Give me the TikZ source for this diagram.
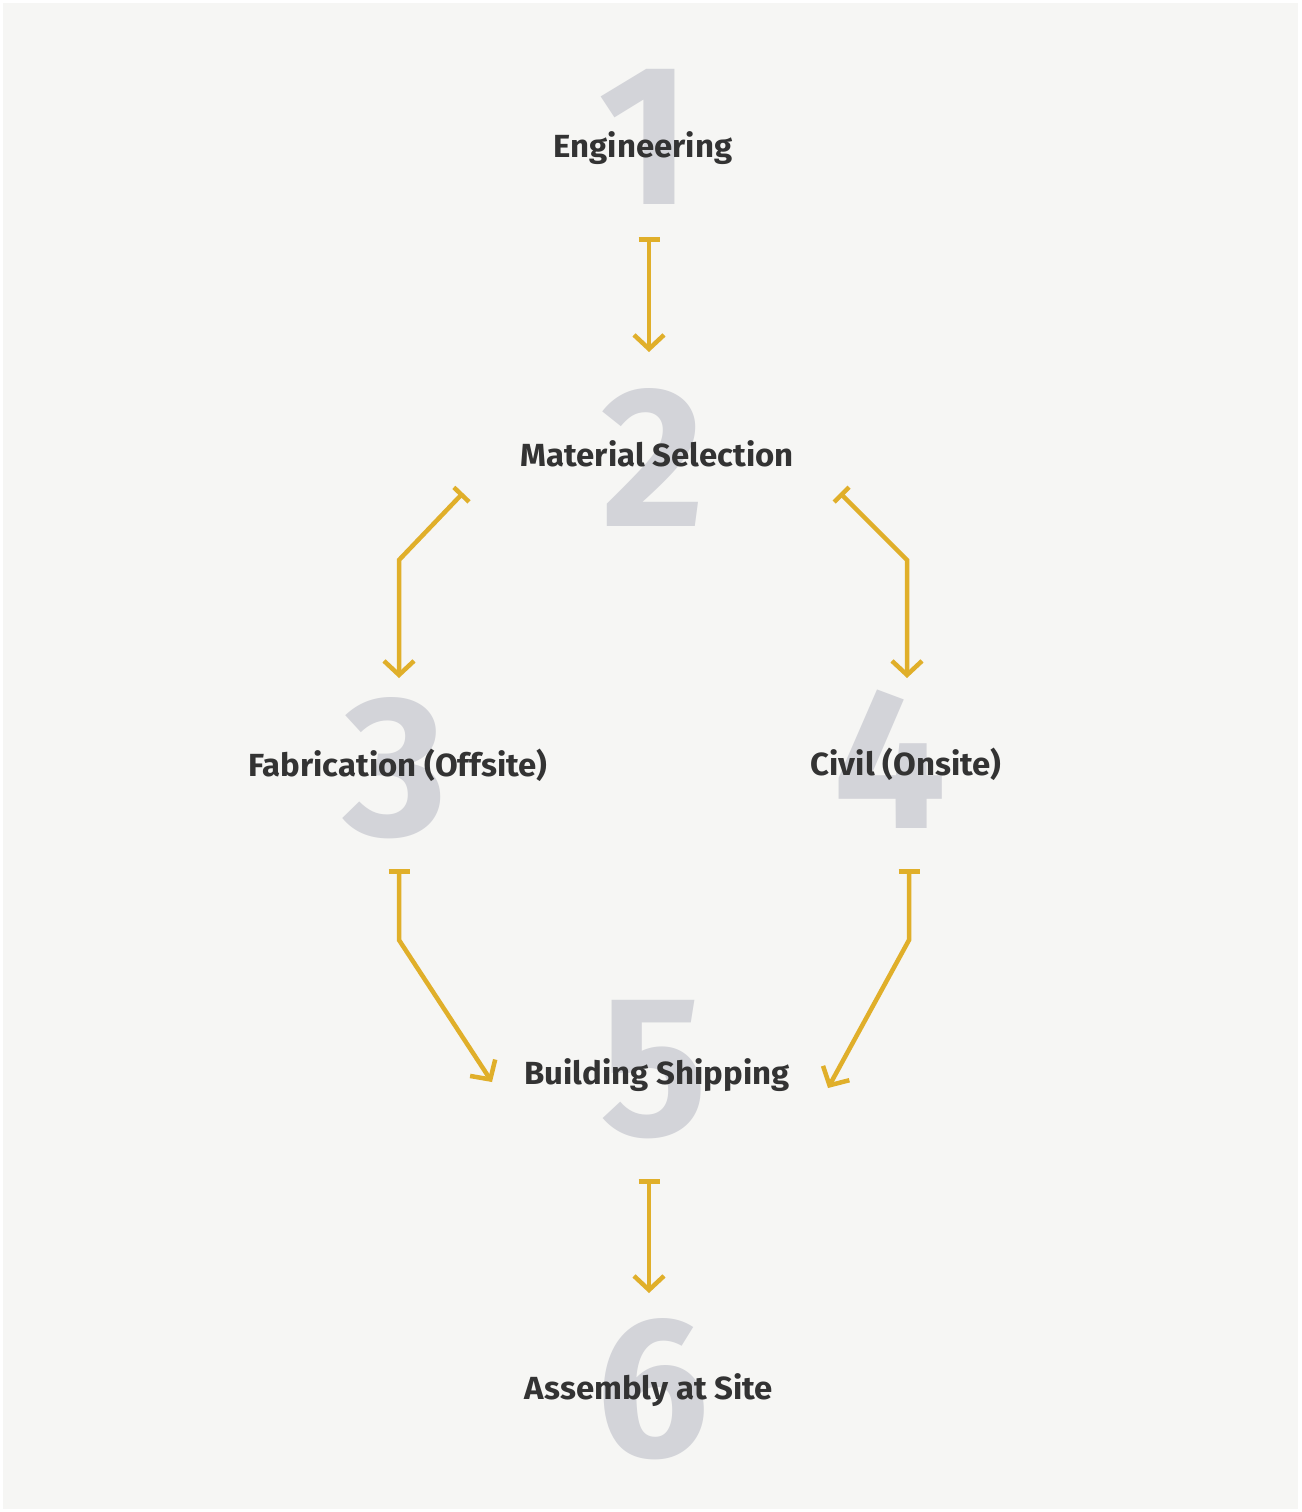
\documentclass[tikz,border=0pt]{standalone}
\usepackage{fontspec}
\setmainfont{Fira Sans}[FakeStretch=1.03]
\newfontfamily\numfont{Fira Sans}
\usetikzlibrary{arrows.meta,calc}
\definecolor{paper}{HTML}{F6F6F4}
\definecolor{stepgray}{HTML}{D3D4D9}
\definecolor{ink}{HTML}{333333}
\definecolor{gold}{HTML}{E0AF2A}
\tikzset{
  bignum/.style={inner sep=0pt,text=stepgray,font=\numfont\fontsize{200}{200}\selectfont\bfseries},
  steptext/.style={anchor=base,inner sep=0pt,text=ink,font=\fontsize{32}{32}\selectfont\bfseries},
  flow/.style={draw=gold,line width=4.5pt,line join=miter,
    {Bar[width=21pt,line width=4.5pt]}-{Straight Barb[length=14pt,width=30pt,line width=4.5pt]}}
}
\begin{document}
\begin{tikzpicture}[x=1pt,y=1pt]
    % frame
    \fill[white] (0,0) rectangle (1301,-1512);
    \fill[paper] (3,-3) rectangle (1298,-1509);
    \useasboundingbox (0,0) rectangle (1301,-1512);
    % step numbers
    \node[bignum] (d1) at (645,-137) {1};
    \node[bignum] (d2) at (653,-457) {2};
    \node[bignum] (d3) at (395,-768) {3};
    \node[bignum] (d4) at (890,-759) {4};
    \node[bignum] (d5) at (654,-1070) {5};
    \node[bignum] (d6) at (653,-1389) {6};
    % step names
    \node[steptext] (eng) at (643,-157) {Engineering};
    \node[steptext] (mat) at (657,-466) {Material Selection};
    \node[steptext] (fab) at (398,-776) {Fabrication (Offsite)};
    \node[steptext] (civ) at (906,-775) {Civil (Onsite)};
    \node[steptext] (shp) at (657,-1084) {Building Shipping};
    \node[steptext] (asm) at (649,-1399) {Assembly at Site};
    % connectors
    \draw[flow] ($(eng.base)+(6,-80)$) -- ($(mat.base)+(-8,114)$);
    \draw[flow] ($(mat.base)+(-194,-27)$) -- ($(fab.base)+(1,216)$) -- ($(fab.base)+(1,98)$);
    \draw[flow] ($(mat.base)+(183,-27)$) -- ($(civ.base)+(1,215)$) -- ($(civ.base)+(1,97)$);
    \draw[flow] ($(fab.base)+(1,-93)$) -- ($(fab.base)+(1,-164)$) -- ($(shp.base)+(-165,2)$);
    \draw[flow] ($(civ.base)+(3,-94)$) -- ($(civ.base)+(3,-165)$) -- ($(shp.base)+(171,-4)$);
    \draw[flow] ($(shp.base)+(-8,-95)$) -- ($(asm.base)+(0,106)$);
\end{tikzpicture}
\end{document}
